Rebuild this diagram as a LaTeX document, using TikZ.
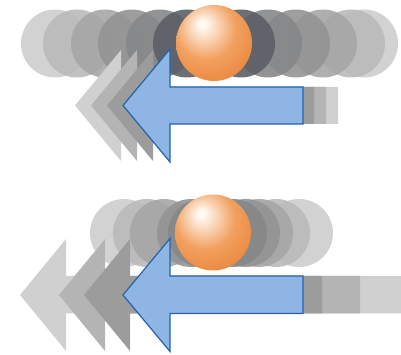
\documentclass[tikz,border=0pt]{standalone}
\usepackage{tikz}
\definecolor{discA}{RGB}{205, 205, 205}
\definecolor{discB}{RGB}{186, 186, 186}
\definecolor{discC}{RGB}{166, 166, 166}
\definecolor{discD}{RGB}{148, 148, 148}
\definecolor{discE}{RGB}{134, 135, 137}
\definecolor{discF}{RGB}{92, 96, 102}
\definecolor{trailA}{RGB}{208, 208, 208}
\definecolor{trailB}{RGB}{180, 180, 180}
\definecolor{trailC}{RGB}{156, 156, 156}
\definecolor{skyfill}{RGB}{143, 181, 228}
\definecolor{skyline}{RGB}{38, 98, 168}
\definecolor{ballhi}{RGB}{255, 250, 244}
\definecolor{ballmid}{RGB}{242, 160, 95}
\definecolor{balledge}{RGB}{224, 112, 32}
\pgfdeclareradialshading{orangeball}{\pgfpoint{-8bp}{13bp}}{color(0bp)=(ballhi); color(2bp)=(ballhi); color(20bp)=(ballmid); color(48bp)=(balledge); color(66bp)=(balledge)}
\def\rdisc{34}
\def\rball{38}

\begin{document}
\begin{tikzpicture}[x=1pt, y=1pt, line join=miter]

                 \useasboundingbox (0, 0) rectangle (401, 355);

                 % upper row: wide spread of discs
                 \fill[discA, opacity=0.9] (55, 311.5) circle[radius=\rdisc];
                 \fill[discA, opacity=0.9] (364, 311.5) circle[radius=\rdisc];
                 \fill[discB, opacity=0.9] (77, 311.5) circle[radius=\rdisc];
                 \fill[discB, opacity=0.9] (351, 311.5) circle[radius=\rdisc];
                 \fill[discC, opacity=0.9] (105, 311.5) circle[radius=\rdisc];
                 \fill[discC, opacity=0.9] (323, 311.5) circle[radius=\rdisc];
                 \fill[discD, opacity=0.9] (132, 311.5) circle[radius=\rdisc];
                 \fill[discD, opacity=0.9] (296, 311.5) circle[radius=\rdisc];
                 \fill[discE, opacity=0.9] (160, 311.5) circle[radius=\rdisc];
                 \fill[discE, opacity=0.9] (268, 311.5) circle[radius=\rdisc];
                 \fill[discF, opacity=0.9] (187, 311.5) circle[radius=\rdisc];
                 \fill[discF, opacity=0.9] (241, 311.5) circle[radius=\rdisc];
                 \fill[discF] (214, 311.5) circle[radius=\rdisc];

                 % upper row: trailing arrows
                 \fill[trailA] (75, 249.5) -- (121, 305) -- (121, 268) --
                 (338, 268) -- (338, 231) -- (121, 231) -- (121, 194) -- cycle;
                 \fill[trailB] (91, 249.5) -- (137, 305) -- (137, 268) --
                 (326, 268) -- (326, 231) -- (137, 231) -- (137, 194) -- cycle;
                 \fill[trailC] (107, 249.5) -- (153, 305) -- (153, 268) --
                 (314, 268) -- (314, 231) -- (153, 231) -- (153, 194) -- cycle;

                 \draw[skyline, fill=skyfill, line width=1.2pt] (123, 249.5) --
                 (170, 306) -- (170, 268) -- (303, 268) -- (303, 231) --
                 (170, 231) -- (170, 193) -- cycle;

                 \shade[shading=orangeball] (214, 312) circle[radius=\rball];

                 % lower row: tight bunch of discs
                 \fill[discA, opacity=0.9] (124, 122) circle[radius=\rdisc];
                 \fill[discA, opacity=0.9] (299, 122) circle[radius=\rdisc];
                 \fill[discB, opacity=0.9] (147, 122) circle[radius=\rdisc];
                 \fill[discB, opacity=0.9] (276, 122) circle[radius=\rdisc];
                 \fill[discC, opacity=0.9] (164, 122) circle[radius=\rdisc];
                 \fill[discC, opacity=0.9] (259, 122) circle[radius=\rdisc];
                 \fill[discD, opacity=0.9] (191, 122) circle[radius=\rdisc];
                 \fill[discD, opacity=0.9] (246, 122) circle[radius=\rdisc];
                 \fill[discE, opacity=0.9] (202, 122) circle[radius=\rdisc];
                 \fill[discE, opacity=0.9] (233, 122) circle[radius=\rdisc];
                 \fill[discF] (214, 122) circle[radius=\rdisc];

                 % lower row: trailing arrows
                 \fill[trailA] (20, 60) -- (66, 116) -- (66, 79) --
                 (401, 79) -- (401, 41.5) -- (66, 41.5) -- (66, 4) -- cycle;
                 \fill[trailB] (59, 60) -- (105, 116) -- (105, 79) --
                 (360, 79) -- (360, 41.5) -- (105, 41.5) -- (105, 4) -- cycle;
                 \fill[trailC] (84, 60) -- (130, 116) -- (130, 79) --
                 (322, 79) -- (322, 41.5) -- (130, 41.5) -- (130, 4) -- cycle;

                 \draw[skyline, fill=skyfill, line width=1.2pt] (123, 60) --
                 (170, 116.5) -- (170, 79) -- (303, 79) -- (303, 41.5) --
                 (170, 41.5) -- (170, 3.5) -- cycle;

                 \shade[shading=orangeball] (213, 122.5) circle[radius=\rball];

             \end{tikzpicture}
\end{document}
